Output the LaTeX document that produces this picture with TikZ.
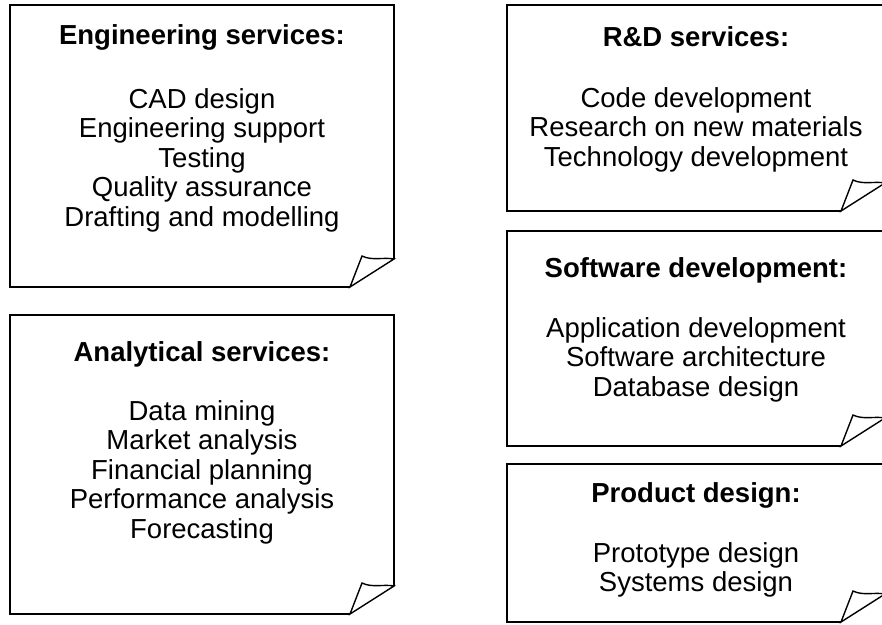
\documentclass[tikz,border=0pt]{standalone}
\usepackage{fontspec}
\setmainfont{Liberation Sans}
\tikzset{
  boxline/.style={draw=black, line width=1.4pt, line join=miter},
  ttl/.style={font=\fontsize{27.5}{29}\selectfont\bfseries, inner sep=0pt, align=center},
  items/.style={font=\fontsize{27.5}{29.5}\selectfont, inner sep=0pt, align=center, anchor=north},
}
\newcommand{\foldbox}[4]{%
  \draw[boxline] (#3,#4-28) -- (#3,#2) -- (#1,#2) -- (#1,#4) -- (#3-44,#4);
  \draw[boxline] (#3-44,#4) -- (#3-32,#4-31) .. controls (#3-22,#4-26) and (#3-10,#4-30) .. (#3,#4-28) -- cycle;
}
\begin{document}
\begin{tikzpicture}[x=1pt,y=-1pt]
\useasboundingbox (0,0) rectangle (882,624);
\clip (0,0) rectangle (882,624);
% left column
\foldbox{10}{5}{394}{287}
\node[ttl] (engT) at (202,37) {Engineering services:};
\node[items] (engI) at (202,88) {CAD design\\Engineering support\\Testing\\Quality assurance\\Drafting and modelling};
\foldbox{10}{315}{394}{614}
\node[ttl] (anaT) at (202,354) {Analytical services:};
\node[items] (anaI) at (202,400) {Data mining\\Market analysis\\Financial planning\\Performance analysis\\Forecasting};
% right column
\foldbox{507}{5}{885}{211}
\node[ttl] (rdT) at (696,37) {R\&D services:};
\node[items] (rdI) at (696,87) {Code development\\Research on new materials\\Technology development};
\foldbox{507}{231}{885}{446}
\node[ttl] (swT) at (696,270) {Software development:};
\node[items] (swI) at (696,317) {Application development\\Software architecture\\Database design};
\foldbox{507}{464}{885}{622}
\node[ttl] (pdT) at (696,495) {Product design:};
\node[items] (pdI) at (696,542) {Prototype design\\Systems design};
\end{tikzpicture}
\end{document}
